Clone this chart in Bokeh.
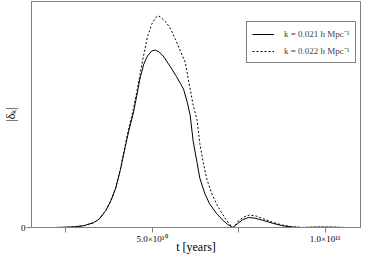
from bokeh.plotting import figure
from bokeh.models import Range1d, FixedTicker
from bokeh.embed import file_html
from bokeh.resources import INLINE

# time in units of 1e10 years, amplitude |delta_k| (arbitrary units)
t1_e10 = [1.52, 2.19, 2.47, 2.75, 3.03, 3.31, 3.48, 3.67, 3.81, 3.95, 4.09, 4.23, 4.34,
          4.46, 4.57, 4.65, 4.76, 4.87, 4.99, 5.10, 5.21, 5.32, 5.54, 5.71, 5.82, 5.91,
          6.02, 6.10, 6.19, 6.30, 6.38, 6.52, 6.66, 6.86, 7.03, 7.19, 7.33, 7.47, 7.61,
          7.78, 7.95, 8.20, 8.48, 8.76, 9.04, 9.32, 9.74, 10.15, 10.57, 11.02]
d1 = [0.0, 0.0, 0.001, 0.003, 0.008, 0.021, 0.038, 0.076, 0.118, 0.173, 0.257, 0.359, 0.435,
      0.506, 0.591, 0.658, 0.722, 0.759, 0.781, 0.785, 0.776, 0.759, 0.709, 0.667, 0.637, 0.612,
      0.553, 0.498, 0.380, 0.287, 0.219, 0.152, 0.105, 0.063, 0.034, 0.013, 0.0, 0.017, 0.034,
      0.044, 0.042, 0.032, 0.019, 0.008, 0.002, 0.0, 0.001, 0.001, 0.0, 0.0]

t2_e10 = [1.52, 2.19, 2.47, 2.75, 3.03, 3.31, 3.48, 3.67, 3.81, 3.95, 4.09, 4.23, 4.34,
          4.46, 4.57, 4.65, 4.76, 4.87, 4.99, 5.10, 5.18, 5.27, 5.41, 5.54, 5.68, 5.82,
          5.96, 6.05, 6.19, 6.30, 6.38, 6.47, 6.58, 6.72, 6.86, 7.00, 7.14, 7.25, 7.36,
          7.50, 7.64, 7.81, 8.00, 8.23, 8.48, 8.76, 9.04, 9.32, 9.74, 10.15, 10.57, 11.02]
d2 = [0.0, 0.0, 0.001, 0.003, 0.008, 0.021, 0.038, 0.076, 0.118, 0.175, 0.262, 0.367, 0.447,
      0.523, 0.608, 0.675, 0.764, 0.844, 0.899, 0.928, 0.937, 0.928, 0.907, 0.878, 0.831, 0.781,
      0.730, 0.654, 0.540, 0.477, 0.371, 0.295, 0.215, 0.152, 0.105, 0.068, 0.034, 0.013, 0.0,
      0.030, 0.046, 0.055, 0.051, 0.038, 0.023, 0.011, 0.003, 0.0, 0.002, 0.002, 0.0, 0.0]

labels = ["k = 0.021 h Mpc\u207b\u00b9", "k = 0.022 h Mpc\u207b\u00b9"]
x_ticks_e10 = [2.5, 5.0, 7.5, 10.0]
x_tick_text = ["", "5.0\u00d710\u00b9\u2070", "", "1.0\u00d710\u00b9\u00b9"]
x_title = "t [years]"
y_title = "|\u03b4\u2096|"

E10 = 1e10
t1 = [v * E10 for v in t1_e10]
t2 = [v * E10 for v in t2_e10]
xt = [v * E10 for v in x_ticks_e10]

FONT = "Liberation Serif"
GRAY = "#808080"

p = figure(width=361, height=256, output_backend="svg", toolbar_location=None,
           x_range=Range1d(1.52 * E10, 11.02 * E10), y_range=Range1d(0, 1.0),
           min_border_left=28, min_border_right=1, min_border_top=1, min_border_bottom=0)

r1 = p.line(t1, d1, line_color="black", line_width=1, legend_label=labels[0])
r2 = p.line(t2, d2, line_color="black", line_width=1, line_dash="2 2", legend_label=labels[1])

p.xgrid.visible = False
p.ygrid.visible = False
p.outline_line_color = GRAY
p.outline_line_width = 1

xa = p.xaxis[0]
xa.ticker = FixedTicker(ticks=xt)
xa.major_label_overrides = {xt[i]: x_tick_text[i] for i in range(len(xt))}
xa.axis_label = x_title
ya = p.yaxis[0]
ya.ticker = FixedTicker(ticks=[0])
ya.major_label_overrides = {0: "0"}
ya.axis_label = y_title

for ax in (xa, ya):
    ax.axis_line_color = GRAY
    ax.major_tick_line_color = GRAY
    ax.minor_tick_line_color = None
    ax.major_tick_in = 0
    ax.major_tick_out = 5
    ax.major_label_text_font = FONT
    ax.major_label_text_font_size = "9px"
    ax.major_label_text_color = "black"
    ax.major_label_text_line_height = 1.0
    ax.axis_label_text_font = FONT
    ax.axis_label_text_font_size = "12px"
    ax.axis_label_text_font_style = "normal"
    ax.axis_label_text_color = "black"
    ax.axis_label_text_line_height = 1.0
    ax.major_label_standoff = 1
ya.axis_label_standoff = 0
xa.axis_label_standoff = -7

leg = p.legend[0]
leg.location = (215, 164)
leg.border_line_color = "black"
leg.border_line_width = 1
leg.background_fill_alpha = 1
leg.label_text_font = FONT
leg.label_text_font_size = "9px"
leg.label_height = 12
leg.glyph_height = 12
leg.glyph_width = 22
leg.spacing = 4
leg.padding = 5
leg.label_standoff = 10

open("out.html", "w").write(file_html(p, INLINE))
